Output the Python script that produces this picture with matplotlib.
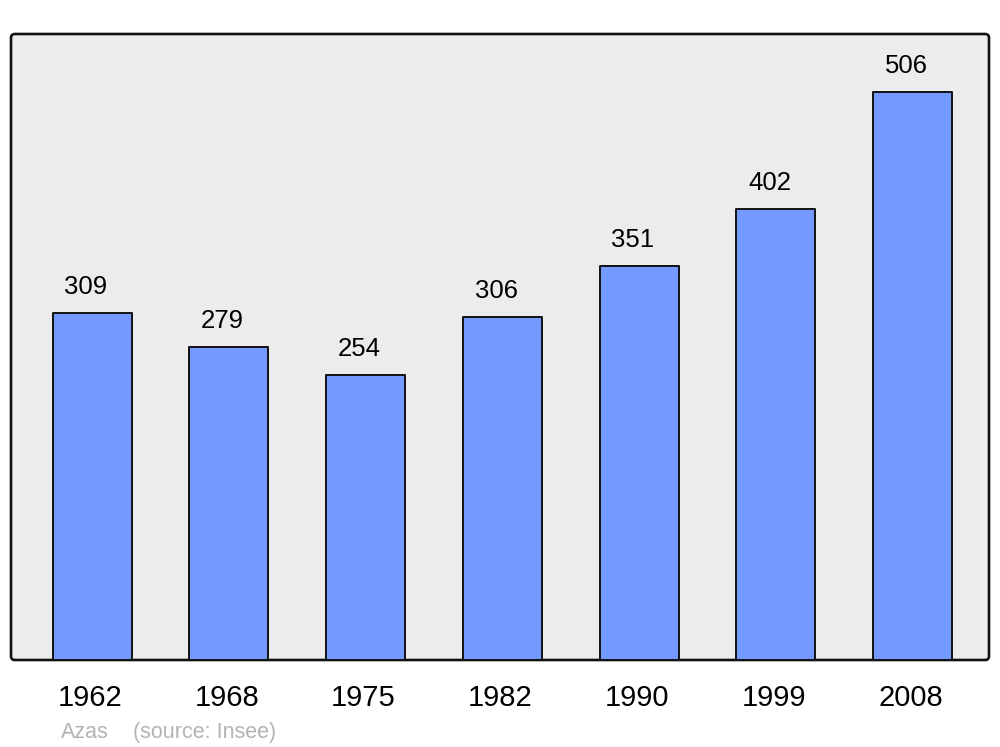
import matplotlib
matplotlib.use("Agg")
import matplotlib.pyplot as plt
from matplotlib.patches import FancyBboxPatch

years = ["1962", "1968", "1975", "1982", "1990", "1999", "2008"]
population = [309, 279, 254, 306, 351, 402, 506]
footer_name = "Azas"
footer_source = "(source: Insee)"

plt.rcParams['font.family'] = ['Liberation Sans', 'DejaVu Sans']

fig = plt.figure(figsize=(10, 7.47), dpi=100)
ax = fig.add_axes([11/1000, 87/747, 978/1000, 626/747])
ax.set_facecolor('none')
for s in ax.spines.values():
    s.set_visible(False)

frame = FancyBboxPatch((0, 0), 1, 1, boxstyle="round,pad=0,rounding_size=0.004",
                       transform=ax.transAxes, facecolor='#ececec', edgecolor='#111111',
                       linewidth=1.9, zorder=0, clip_on=False, mutation_aspect=978/626)
ax.add_patch(frame)

x = list(range(len(years)))
bars = ax.bar(x, population, width=0.578, color='#7499ff', edgecolor='#111111',
              linewidth=1.4, zorder=2)
for b in bars:
    b.set_joinstyle('round')

for xi, v in zip(x, population):
    ax.annotate(str(v), (xi, v), xytext=(-4.5, 13.5), textcoords='offset points',
                ha='center', va='baseline', fontsize=18.5, color='#000000')

ax.set_xlim(-0.593, 6.559)
ax.set_ylim(0, 557.7)
ax.set_xticks(x)
ax.set_xticklabels(years, fontsize=21)
for lbl in ax.get_xticklabels():
    lbl.set_x(lbl.get_position()[0])
ax.tick_params(axis='x', length=0, pad=17)
ax.set_yticks([])
import matplotlib.transforms as mtransforms
offset = mtransforms.ScaledTranslation(-2/100, 0, fig.dpi_scale_trans)
for lbl in ax.get_xticklabels():
    lbl.set_transform(lbl.get_transform() + offset)

fig.text(61/1000, 1 - 738/747, footer_name, fontsize=15.5, color='#b3b3b3', va='baseline')
fig.text(133/1000, 1 - 738/747, footer_source, fontsize=15.5, color='#b3b3b3', va='baseline')

fig.savefig("out.png", dpi=100)
